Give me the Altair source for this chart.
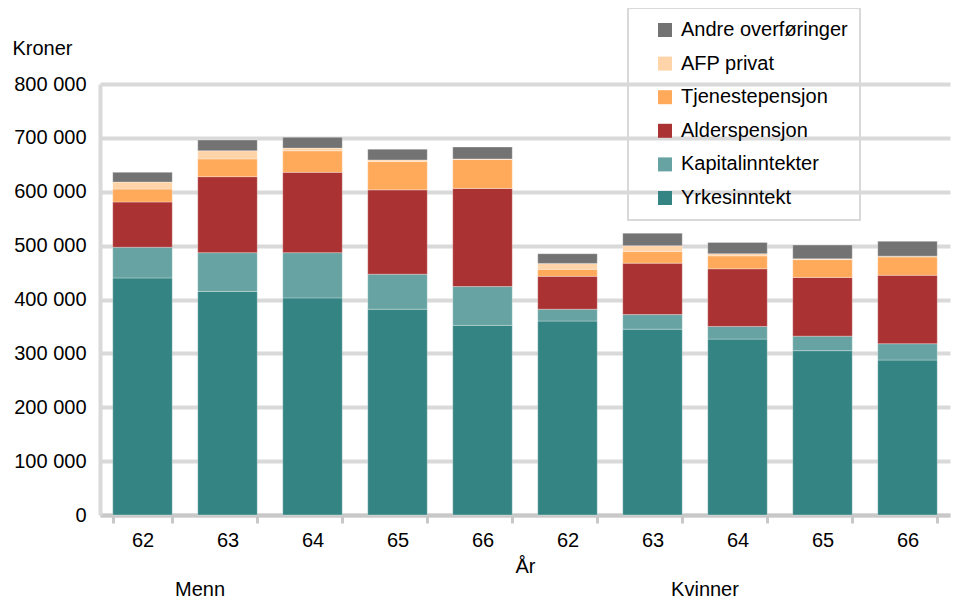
import altair as alt
import pandas as pd

groups = ["Menn"] * 5 + ["Kvinner"] * 5
years = ["62", "63", "64", "65", "66", "62", "63", "64", "65", "66"]

components = ["Yrkesinntekt", "Kapitalinntekter", "Alderspensjon",
              "Tjenestepensjon", "AFP privat", "Andre overføringer"]
colors = ["#348484", "#66a3a2", "#ab3232", "#ffaa5a", "#ffd4a8", "#737373"]

yrkesinntekt = [440000, 415000, 403000, 382000, 352000, 360000, 345000, 326500, 305000, 287600]
kapitalinntekter = [57000, 72000, 84000, 65000, 72000, 22000, 27000, 23500, 27000, 30400]
alderspensjon = [84000, 141000, 149000, 156500, 182000, 61000, 95500, 107000, 109000, 127000]
tjenestepensjon = [24000, 33000, 40000, 52500, 54000, 13000, 21500, 24000, 33000, 34000]
afp_privat = [13000, 15000, 5000, 3000, 1000, 11000, 11000, 4000, 1500, 1500]
andre_overforinger = [18000, 20000, 20000, 20000, 22000, 18000, 23000, 21000, 25500, 27500]

series = [yrkesinntekt, kapitalinntekter, alderspensjon,
          tjenestepensjon, afp_privat, andre_overforinger]

rows = []
for ci, (name, vals) in enumerate(zip(components, series)):
    for i, v in enumerate(vals):
        rows.append({"key": f"{groups[i]}|{years[i]}", "group": groups[i],
                     "year": years[i], "component": name, "order": ci, "value": v})
df = pd.DataFrame(rows)
keys = [f"{g}|{y}" for g, y in zip(groups, years)]

FONT = "Liberation Sans"

bars = alt.Chart(df).mark_bar(stroke="white", strokeWidth=0.6, strokeOpacity=0.5).encode(
    x=alt.X("key:N", sort=keys,
            scale=alt.Scale(paddingInner=0.3, paddingOuter=0.15),
            axis=alt.Axis(title="År", labelExpr="split(datum.label, '|')[1]",
                          labelAngle=0, labelPadding=7, titlePadding=6,
                          titleFontWeight="normal",
                          domainColor="#c8c8c8", domainWidth=4,
                          tickColor="#c8c8c8", tickWidth=3, tickSize=8,
                          tickBand="extent", grid=False)),
    y=alt.Y("value:Q", stack="zero",
            scale=alt.Scale(domain=[0, 800000]),
            axis=alt.Axis(title="Kroner", values=list(range(0, 800001, 100000)),
                          labelExpr="replace(format(datum.value, ',d'), /,/g, ' ')",
                          ticks=False, labelPadding=14,
                          domainColor="#d9d9d9", domainWidth=4,
                          gridColor="#d9d9d9", gridWidth=4,
                          titleAngle=0, titleAlign="left", titleBaseline="middle",
                          titleX=-88, titleY=-36, titleFontWeight="normal")),
    color=alt.Color("component:N",
                    scale=alt.Scale(domain=components[::-1], range=colors[::-1]),
                    legend=alt.Legend(title=None, orient="none", legendX=528, legendY=-76,
                                      symbolType="square", symbolSize=196,
                                      symbolStrokeWidth=0, rowPadding=13.6,
                                      labelOffset=6, symbolOffset=15, labelLimit=400,
                                      padding=12, strokeColor="#d9d9d9")),
    order=alt.Order("order:Q", sort="ascending"),
)

group_df = pd.DataFrame({"label": ["Menn", "Kvinner"], "px": [100, 605]})
group_text = alt.Chart(group_df).mark_text(
    font=FONT, fontSize=20, color="black", baseline="middle", align="center"
).encode(
    x=alt.X("px:Q", scale=None),
    y=alt.value(506),
    text="label:N",
)

chart = alt.layer(bars, group_text).properties(
    width=850, height=431,
    autosize=alt.AutoSizeParams(type="none"),
    padding={"left": 92, "top": 76, "right": 1, "bottom": 90},
).configure_view(stroke=None).configure_axis(
    labelFont=FONT, titleFont=FONT, labelFontSize=20, titleFontSize=20,
    labelColor="black", titleColor="black",
).configure_legend(
    labelFont=FONT, labelFontSize=20, labelColor="black", strokeWidth=2,
)

chart.save("out.html", embed_options={"renderer": "svg", "actions": False})
